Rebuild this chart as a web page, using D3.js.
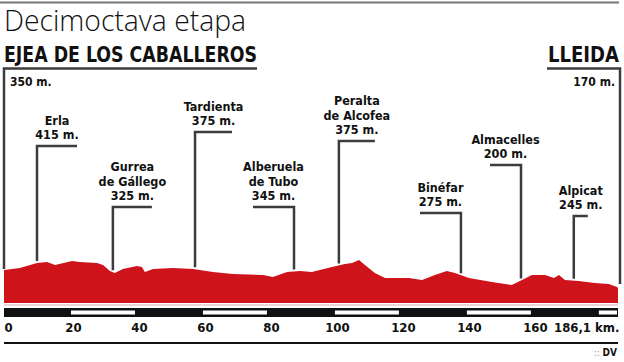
<!DOCTYPE html>
<meta charset="utf-8">
<style>
body { margin: 0; background: #fff; }
svg text { font-family: "Liberation Sans Narrow", "DejaVu Sans Condensed", sans-serif; fill: #111; }
.stop text { font-size: 12.5px; font-weight: bold; text-anchor: middle; }
.lead { fill: none; stroke: #3c3c3c; stroke-width: 2.5; }
.km text { font-size: 13px; font-weight: bold; }
</style>
<body>
<script src="https://d3js.org/d3.v7.min.js"></script>
<script>

// profile: km and altitude (m)
var profKm  = [0, 4.8, 10, 13, 15.5, 20.6, 23, 28.2, 30, 32.1, 33.6, 36, 40.3, 41.8, 42.7, 45.2, 51.2, 57.3,
               63.3, 69.4, 78.5, 81.5, 85.8, 89.7, 93.3, 99.4, 103.3, 105.5, 107.6, 109.4, 112.4, 115.5,
               122.7, 126.7, 130.6, 134.2, 136.7, 140.9, 147.9, 153.9, 157, 160, 164, 166.7, 168.2, 170,
               174.2, 179, 183.3, 185.8, 186.1];
var profAlt = [350, 370, 420, 430, 400, 440, 430, 420, 400, 340, 320, 360, 390, 380, 330, 360, 370, 360,
               330, 310, 300, 280, 330, 340, 330, 380, 410, 420, 450, 400, 320, 270,
               270, 250, 300, 340, 320, 270, 230, 200, 250, 300, 300, 270, 300, 250,
               240, 220, 210, 180, 170];

var stopNames = [["Erla"], ["Gurrea", "de Gállego"], ["Tardienta"], ["Alberuela", "de Tubo"],
                 ["Peralta", "de Alcofea"], ["Binéfar"], ["Almacelles"], ["Alpicat"]];
var stopKm    = [10, 33, 57.9, 87.9, 101.5, 138.5, 156.7, 172.7];
var stopAlt   = [415, 325, 375, 345, 375, 275, 200, 245];

// label layout: y of the leader bar, side and length
var stopLineY = [146, 207, 132, 207, 141, 213, 165, 216];
var stopDir   = [1, 1, 1, -1, 1, -1, -1, 1];
var stopLen   = [40, 39, 37, 41, 36, 41, 31, 14];

var tickKm = [0, 20, 40, 60, 80, 100, 120, 140, 160, 186.1];
var totalKm = 186.1;

var W = 624, H = 362;
var svg = d3.select("body").append("svg").attr("width", W).attr("height", H);

var x = d3.scaleLinear().domain([0, totalKm]).range([4, 618]);
var y = d3.scaleLinear().domain([20, 520]).range([303, 253]);

// header
svg.append("line").attr("x1", 0).attr("x2", 619).attr("y1", 2.5).attr("y2", 2.5)
   .attr("stroke", "#777").attr("stroke-width", 2);
svg.append("text").attr("x", 4).attr("y", 31).style("font-size", "29px")
   .attr("textLength", 242).attr("lengthAdjust", "spacingAndGlyphs")
   .style("font-family", "'Open Sans', sans-serif").style("font-weight", 300)
   .text("Decimoctava etapa");

svg.append("text").attr("x", 4).attr("y", 62).style("font-size", "21px").style("font-weight", "bold")
   .attr("textLength", 253).attr("lengthAdjust", "spacingAndGlyphs")
   .text("EJEA DE LOS CABALLEROS");
svg.append("text").attr("x", 619).attr("y", 62).style("font-size", "21px").style("font-weight", "bold")
   .attr("text-anchor", "end").attr("textLength", 71).attr("lengthAdjust", "spacingAndGlyphs")
   .text("LLEIDA");

svg.append("path").attr("class", "lead").attr("d", "M257,68.5H4V" + (y(350) - 1));
svg.append("path").attr("class", "lead").attr("d", "M547,68.5H620V" + (y(170) - 4));
svg.append("text").attr("x", 10).attr("y", 86).style("font-size", "12px").style("font-weight", "bold").text("350 m.");
svg.append("text").attr("x", 615).attr("y", 86).attr("text-anchor", "end").style("font-size", "12px")
   .style("font-weight", "bold").text("170 m.");

// profile
var area = d3.area()
    .x(function(d) { return x(d[0]); })
    .y0(y(20))
    .y1(function(d) { return y(d[1]); })
    .curve(d3.curveLinear);

var prof = d3.zip(profKm, profAlt);
svg.append("path").datum(prof).attr("d", area).attr("fill", "#cf131b");
svg.append("line").attr("x1", x(0)).attr("x2", x(totalKm)).attr("y1", 305).attr("y2", 305)
   .attr("stroke", "#e2c9c9").attr("stroke-width", 1.5);

function altAt(km) {
  var i = d3.bisectLeft(profKm, km);
  if (i <= 0) return profAlt[0];
  var t = (km - profKm[i - 1]) / (profKm[i] - profKm[i - 1]);
  return profAlt[i - 1] + t * (profAlt[i] - profAlt[i - 1]);
}

// stops
var stops = svg.selectAll(".stop").data(stopKm).enter().append("g").attr("class", "stop");
stops.append("path").attr("class", "lead").attr("d", function(d, i) {
  var vx = x(d), ly = stopLineY[i];
  return "M" + (vx + stopDir[i] * stopLen[i]) + "," + ly + "H" + vx + "V" + (y(altAt(d)) - 2);
});
stops.each(function(d, i) {
  var g = d3.select(this);
  var cx = x(d) + stopDir[i] * stopLen[i] / 2;
  var lines = stopNames[i].concat([stopAlt[i] + " m."]);
  var n = lines.length;
  lines.forEach(function(t, j) {
    g.append("text").attr("x", cx).attr("y", stopLineY[i] - 7 - (n - 1 - j) * 14.5).text(t);
  });
});

// distance bar
var segs = d3.range(0, totalKm, 20);
svg.append("rect").attr("x", x(0)).attr("y", 308).attr("width", x(totalKm) - x(0)).attr("height", 9).attr("fill", "#111");
svg.selectAll(".seg").data(segs.filter(function(d, i) { return i % 2 == 1; }))
  .enter().append("rect")
    .attr("x", function(d) { return x(d) + 1; })
    .attr("y", 310.5)
    .attr("width", function(d) { return x(Math.min(d + 20, totalKm)) - x(d) - 2; })
    .attr("height", 4)
    .attr("fill", "#fff");

var kmAxis = d3.axisBottom(x).tickValues(tickKm).tickSize(0).tickPadding(0)
    .tickFormat(function(d) { return d == totalKm ? "186,1 km." : d; });
var ax = svg.append("g").attr("class", "km").attr("transform", "translate(0,323)").call(kmAxis);
ax.select(".domain").remove();
ax.selectAll("text").attr("dy", "0.71em").style("font-family", null).style("font-size", null)
  .attr("fill", "#111")
  .attr("text-anchor", function(d) { return d == 0 ? "start" : d == totalKm ? "end" : "middle"; })
  .attr("x", function(d) { return d == 0 ? 0 : d == totalKm ? 1 : 3; });

svg.append("line").attr("x1", 4).attr("x2", 618).attr("y1", 343).attr("y2", 343)
   .attr("stroke", "#111").attr("stroke-width", 2);
var dv = svg.append("text").attr("x", 617).attr("y", 356).attr("text-anchor", "end").style("font-size", "10px");
dv.append("tspan").attr("fill", "#999").text(":: ");
dv.append("tspan").style("font-weight", "bold").text("DV");

</script>
